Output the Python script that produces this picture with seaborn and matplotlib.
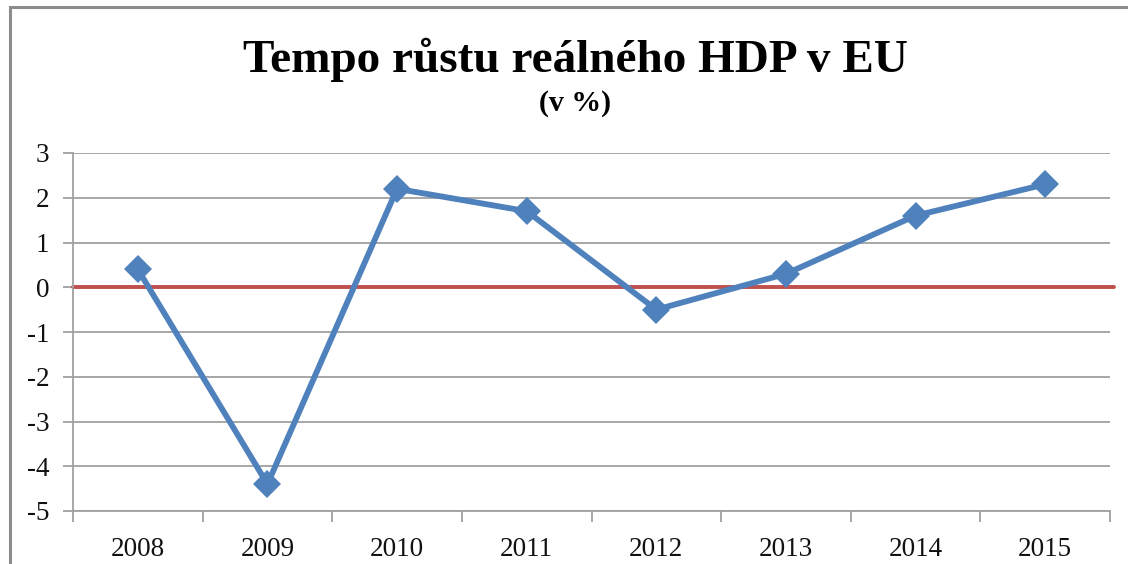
import matplotlib
matplotlib.use("Agg")
import matplotlib.pyplot as plt
import seaborn as sns
import pandas as pd
from matplotlib.patches import Rectangle
from matplotlib.ticker import FixedLocator

years = ["2008", "2009", "2010", "2011", "2012", "2013", "2014", "2015"]
growth = [0.4, -4.4, 2.2, 1.7, -0.5, 0.3, 1.6, 2.3]
zero_line = [0.0] * len(years)
y_ticks = [3, 2, 1, 0, -1, -2, -3, -4, -5]
title = "Tempo růstu reálného HDP v EU"
subtitle = "(v %)"

sns.set_theme(style="white")
plt.rcParams["font.family"] = ["Liberation Serif", "DejaVu Serif"]

df = pd.DataFrame({"rok": years, "hdp": growth, "nula": zero_line})
df["pos"] = range(len(years))

W, H = 1128, 564
fig = plt.figure(figsize=(W / 100, H / 100), dpi=100)
ax = fig.add_axes([73 / W, 1 - 511 / H, (1110 - 73) / W, (511 - 153) / H])

grid_c = "#A0A0A0"
for t in y_ticks:
    if t != 0:
        ax.axhline(t, color=grid_c, lw=1.3, zorder=1)

ax.axhline(0, xmin=0, xmax=1.004, color="#C0504D", lw=2.8, zorder=2, clip_on=False)

sns.lineplot(data=df, x="pos", y="hdp", ax=ax, color="#4F81BD", lw=4.2,
             marker="D", markersize=14.5, markeredgewidth=0, zorder=3)

ax.set_xlim(-0.5, len(years) - 0.5)
ax.set_ylim(-5, 3)
ax.set_xticks(df["pos"])
ax.set_xticklabels(years)
ax.xaxis.set_minor_locator(FixedLocator([i - 0.5 for i in range(len(years) + 1)]))
ax.set_yticks(y_ticks)
ax.set_yticklabels([str(t) for t in y_ticks])
ax.set_xlabel("")
ax.set_ylabel("")

ax.tick_params(axis="x", which="major", length=0, pad=19, labelsize=19.5, labelcolor="#111111")
ax.tick_params(axis="x", which="minor", length=8, width=1.3, color=grid_c, direction="out")
ax.tick_params(axis="y", which="major", length=7, width=1.3, color=grid_c, direction="out",
               pad=10, labelsize=19.5, labelcolor="#111111")
ax.tick_params(bottom=True, left=True, which="both")
ax.xaxis.set_tick_params(which="major", bottom=False)

for s in ["top", "right"]:
    ax.spines[s].set_visible(False)
for s in ["left", "bottom"]:
    ax.spines[s].set_color(grid_c)
    ax.spines[s].set_linewidth(1.3)

fig.text(575 / W, 1 - 60 / H, title, ha="center", va="center",
         fontsize=34, fontweight="bold", color="#000000")
fig.text(575 / W, 1 - 103 / H, subtitle, ha="center", va="center",
         fontsize=21.5, fontweight="bold", color="#000000")

border = Rectangle((10 / W, -0.2), 1.2, 1 - 7 / H + 0.2, transform=fig.transFigure,
                   fill=False, edgecolor="#8C8C8C", lw=2.2, clip_on=False)
fig.patches.append(border)

fig.savefig("out.png", dpi=100)
